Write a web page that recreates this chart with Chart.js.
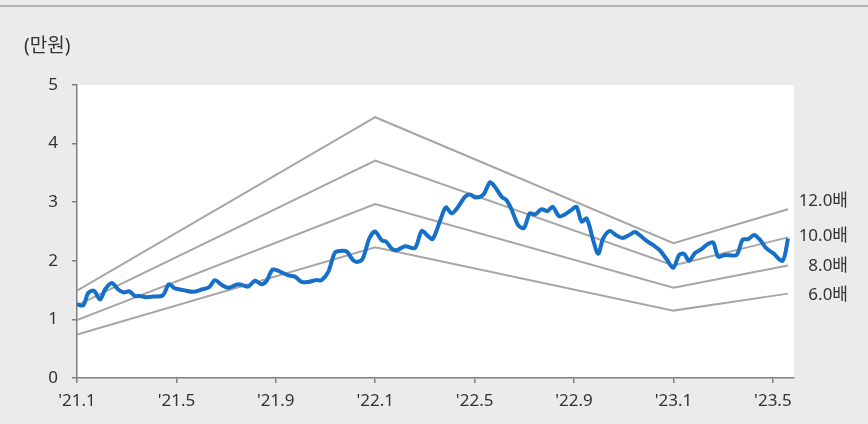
<!DOCTYPE html>
<html>
<head>
<meta charset="utf-8">
<script src="https://cdn.jsdelivr.net/npm/chart.js@4"></script>
<style>
  html, body { margin: 0; padding: 0; background: #ebebeb; }
  canvas { display: block; }
</style>
</head>
<body>
<canvas id="perBand" width="868" height="424"></canvas>
<script>
// months counted from Jan 2021
const tickMonths = [0, 4, 8, 12, 16, 20, 24, 28]
const tickLabels = ["'21.1", "'21.5", "'21.9", "'22.1", "'22.5", "'22.9", "'23.1", "'23.5"]

// share price (만원), weekly-ish
const priceMonths = [
  0, 0.25, 0.45, 0.68, 0.93, 1.13, 1.40, 1.66, 1.89, 2.10, 2.33, 2.53, 2.78, 3.07, 3.45, 3.70, 3.94,
  4.28, 4.68, 5.02, 5.32, 5.55, 5.82, 6.09, 6.49, 6.89, 7.16, 7.43, 7.63, 7.87, 8.10, 8.50, 8.77,
  9.04, 9.31, 9.62, 9.84, 10.11, 10.38, 10.65, 10.85, 11.09, 11.25, 11.49, 11.76, 11.99, 12.26, 12.43,
  12.66, 12.86, 13.20, 13.60, 13.87, 14.13, 14.31, 14.60, 14.84, 15.07, 15.25, 15.61, 15.81, 16.05,
  16.35, 16.62, 16.82, 17.09, 17.29, 17.49, 17.75, 17.98, 18.22, 18.43, 18.69, 18.92, 19.14, 19.40,
  19.63, 19.90, 20.10, 20.30, 20.51, 20.75, 20.97, 21.17, 21.44, 21.68, 21.95, 22.22, 22.45, 22.72,
  22.92, 23.18, 23.45, 23.72, 23.99, 24.23, 24.42, 24.63, 24.86, 25.13, 25.40, 25.60, 25.80, 26.07,
  26.54, 26.78, 27.01, 27.24, 27.48, 27.72, 28.01, 28.39, 28.61
]
const price = [
  1.26, 1.24, 1.45, 1.49, 1.34, 1.51, 1.62, 1.51, 1.46, 1.48, 1.40, 1.40, 1.38, 1.39, 1.41, 1.60, 1.53,
  1.50, 1.47, 1.51, 1.55, 1.67, 1.59, 1.54, 1.60, 1.56, 1.66, 1.60, 1.66, 1.85, 1.83, 1.75, 1.73,
  1.64, 1.64, 1.67, 1.67, 1.81, 2.14, 2.17, 2.16, 2.02, 1.98, 2.03, 2.38, 2.50, 2.35, 2.33,
  2.21, 2.18, 2.25, 2.22, 2.51, 2.42, 2.37, 2.67, 2.91, 2.81, 2.87, 3.09, 3.13, 3.08,
  3.13, 3.34, 3.26, 3.09, 3.03, 2.87, 2.61, 2.56, 2.81, 2.79, 2.88, 2.85, 2.92, 2.76,
  2.79, 2.87, 2.92, 2.67, 2.72, 2.38, 2.12, 2.38, 2.51, 2.44, 2.39, 2.44, 2.49, 2.41,
  2.34, 2.27, 2.18, 2.03, 1.88, 2.10, 2.12, 2.00, 2.13, 2.20, 2.29, 2.31, 2.07, 2.10,
  2.10, 2.36, 2.37, 2.44, 2.36, 2.22, 2.13, 2.00, 2.38
]

// PER band lines
const bandMonths = [0, 12, 24, 28.61]
const bandNames = ['12.0배', '10.0배', '8.0배', '6.0배']
const band12 = [1.49, 4.45, 2.30, 2.88]
const band10 = [1.24, 3.71, 1.92, 2.40]
const band8 = [0.99, 2.97, 1.54, 1.92]
const band6 = [0.74, 2.23, 1.15, 1.44]

const FONT = '"Noto Sans", "Noto Sans CJK KR", sans-serif'
const TXT = '#333333'
const AXIS = '#7f7f7f'

const toPoints = (xs, ys) => xs.map((x, i) => ({x: x, y: ys[i]}))
const bandSet = (vals) => ({
  data: toPoints(bandMonths, vals),
  borderColor: '#a6a6a6',
  borderWidth: 2,
  pointRadius: 0,
  tension: 0,
  order: 2,
})

const frame = {
  id: 'frame',
  beforeDraw(chart) {
    const {ctx, chartArea: a, width} = chart
    ctx.save()
    ctx.fillStyle = '#ebebeb'
    ctx.fillRect(0, 0, chart.width, chart.height)
    ctx.fillStyle = '#ffffff'
    ctx.fillRect(a.left, a.top, a.right - a.left, a.bottom - a.top)
    ctx.strokeStyle = '#a0a0a0'
    ctx.lineWidth = 1.5
    ctx.beginPath()
    ctx.moveTo(0, 6)
    ctx.lineTo(width, 6)
    ctx.stroke()
    ctx.fillStyle = TXT
    ctx.font = '19px ' + FONT
    ctx.textBaseline = 'middle'
    ctx.textAlign = 'left'
    ctx.fillText('(만원)', 24, 47)
    ctx.restore()
  },
  afterDatasetsDraw(chart) {
    const {ctx} = chart
    const y = chart.scales.y
    const ends = [band12, band10, band8, band6]
    const shift = [-8, -1, 1, 2]
    ctx.save()
    ctx.fillStyle = TXT
    ctx.font = '17px ' + FONT
    ctx.textAlign = 'right'
    ctx.textBaseline = 'middle'
    bandNames.forEach((name, i) => {
      const v = ends[i][ends[i].length - 1]
      ctx.fillText(name, 848, y.getPixelForValue(v) + shift[i])
    })
    ctx.restore()
  }
}

new Chart(document.getElementById('perBand'), {
  type: 'line',
  data: {
    datasets: [
      {
        data: toPoints(priceMonths, price),
        borderColor: '#1770c8',
        borderWidth: 4,
        pointRadius: 0,
        tension: 0.3,
        order: 1,
      },
      bandSet(band12),
      bandSet(band10),
      bandSet(band8),
      bandSet(band6),
    ]
  },
  options: {
    responsive: false,
    animation: false,
    devicePixelRatio: 1,
    layout: {padding: {top: 85, right: 74, left: 0, bottom: 0}},
    plugins: {legend: {display: false}, tooltip: {enabled: false}},
    scales: {
      x: {
        type: 'linear',
        min: 0,
        max: 28.85,
        afterBuildTicks: (s) => { s.ticks = tickMonths.map(v => ({value: v})) },
        afterFit: (s) => { s.height = 46 },
        ticks: {
          autoSkip: false,
          maxRotation: 0,
          padding: 8,
          color: TXT,
          font: {family: FONT, size: 17},
          callback: (v) => tickLabels[tickMonths.indexOf(v)],
        },
        grid: {drawOnChartArea: false, tickLength: 5, color: AXIS, lineWidth: 1.5},
        border: {color: AXIS, width: 1.5},
      },
      y: {
        min: 0,
        max: 5,
        afterFit: (s) => { s.width = 77 },
        ticks: {
          stepSize: 1,
          padding: 14,
          color: TXT,
          font: {family: FONT, size: 17},
        },
        grid: {drawOnChartArea: false, tickLength: 5, color: AXIS, lineWidth: 1.5},
        border: {color: AXIS, width: 1.5},
      }
    }
  },
  plugins: [frame],
})
</script>
</body>
</html>
